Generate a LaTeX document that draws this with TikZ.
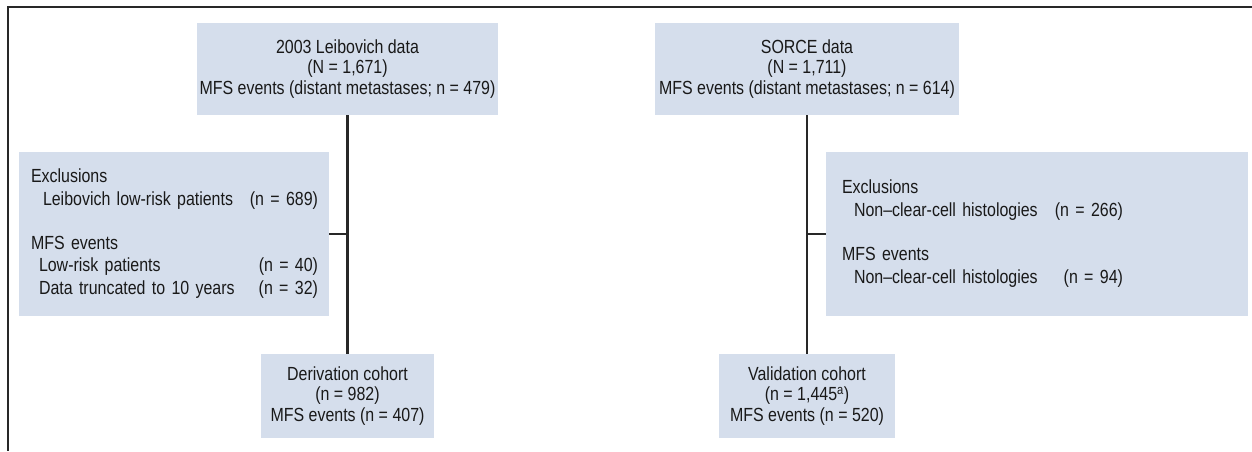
\documentclass[tikz,border=0pt]{standalone}
\usepackage{fontspec}
\setmainfont{Liberation Sans}[FakeStretch=0.84]
\usepackage{tikz}
\usetikzlibrary{positioning,calc}
\usepackage{xcolor}
\definecolor{boxfill}{RGB}{213,222,236}
\definecolor{linegray}{RGB}{40,40,40}
\definecolor{txtgray}{RGB}{25,25,25}

\begin{document}
\begin{tikzpicture}[x=1pt, y=-1pt,
    every node/.style={font=\fontsize{19}{20.5}\selectfont, text=txtgray},
    src/.style={fill=boxfill, inner sep=0pt, minimum height=92pt, align=center},
    excl/.style={fill=boxfill, inner ysep=0pt, minimum height=164pt, align=left},
    cohort/.style={fill=boxfill, inner sep=0pt, minimum height=84pt, align=center},
    link/.style={draw=linegray, line width=2.2pt},
    frame/.style={draw=linegray, line width=1.4pt}
]
\useasboundingbox (0,0) rectangle (1252,451);

% outer frame (top and left only)
\draw[frame] (1252,7) -- (8,7) -- (8,451);

% source data
\node[src, minimum width=301pt] (leib) at (347.5, 69) {2003 Leibovich data\\(N = 1,671)\\MFS events (distant metastases; n = 479)};
\node[src, minimum width=304pt] (sorce) at (807, 69) {SORCE data\\(N = 1,711)\\MFS events (distant metastases; n = 614)};

% exclusions
\node[excl, inner xsep=12pt, text width=286pt] (exclL) at (174, 234) {%
\renewcommand{\arraystretch}{1.1}%
\begin{tabular*}{287pt}{@{}l@{\extracolsep{\fill}}r@{}}
Exclusions & \\
\hspace{12pt}Leibovich low-risk patients & (n = 689)\\[21pt]
MFS events & \\
\hspace{8pt}Low-risk patients & (n = 40)\\
\hspace{8pt}Data truncated to 10 years & (n = 32)
\end{tabular*}};
\node[excl, inner xsep=16pt, text width=390pt] (exclR) at (1037, 234) {%
\renewcommand{\arraystretch}{1.1}%
\begin{tabular*}{281pt}{@{}l@{\extracolsep{\fill}}r@{}}
Exclusions & \\
\hspace{12pt}Non–clear-cell histologies & (n = 266)\\[22pt]
MFS events & \\
\hspace{12pt}Non–clear-cell histologies & (n = 94)
\end{tabular*}};

% cohorts
\node[cohort, minimum width=173pt] (deriv) at (347.5, 396) {Derivation cohort\\(n = 982)\\MFS events (n = 407)};
\node[cohort, minimum width=176pt] (valid) at (807, 396) {Validation cohort\\(n = 1,445\textsuperscript{a})\\MFS events (n = 520)};

\draw[link] (leib.south) -- (deriv.north);
\draw[link] (sorce.south) -- (valid.north);
\draw[link] (exclL.east) -- (exclL.east -| leib.south);
\draw[link] (exclR.west) -- (exclR.west -| sorce.south);
\end{tikzpicture}
\end{document}
